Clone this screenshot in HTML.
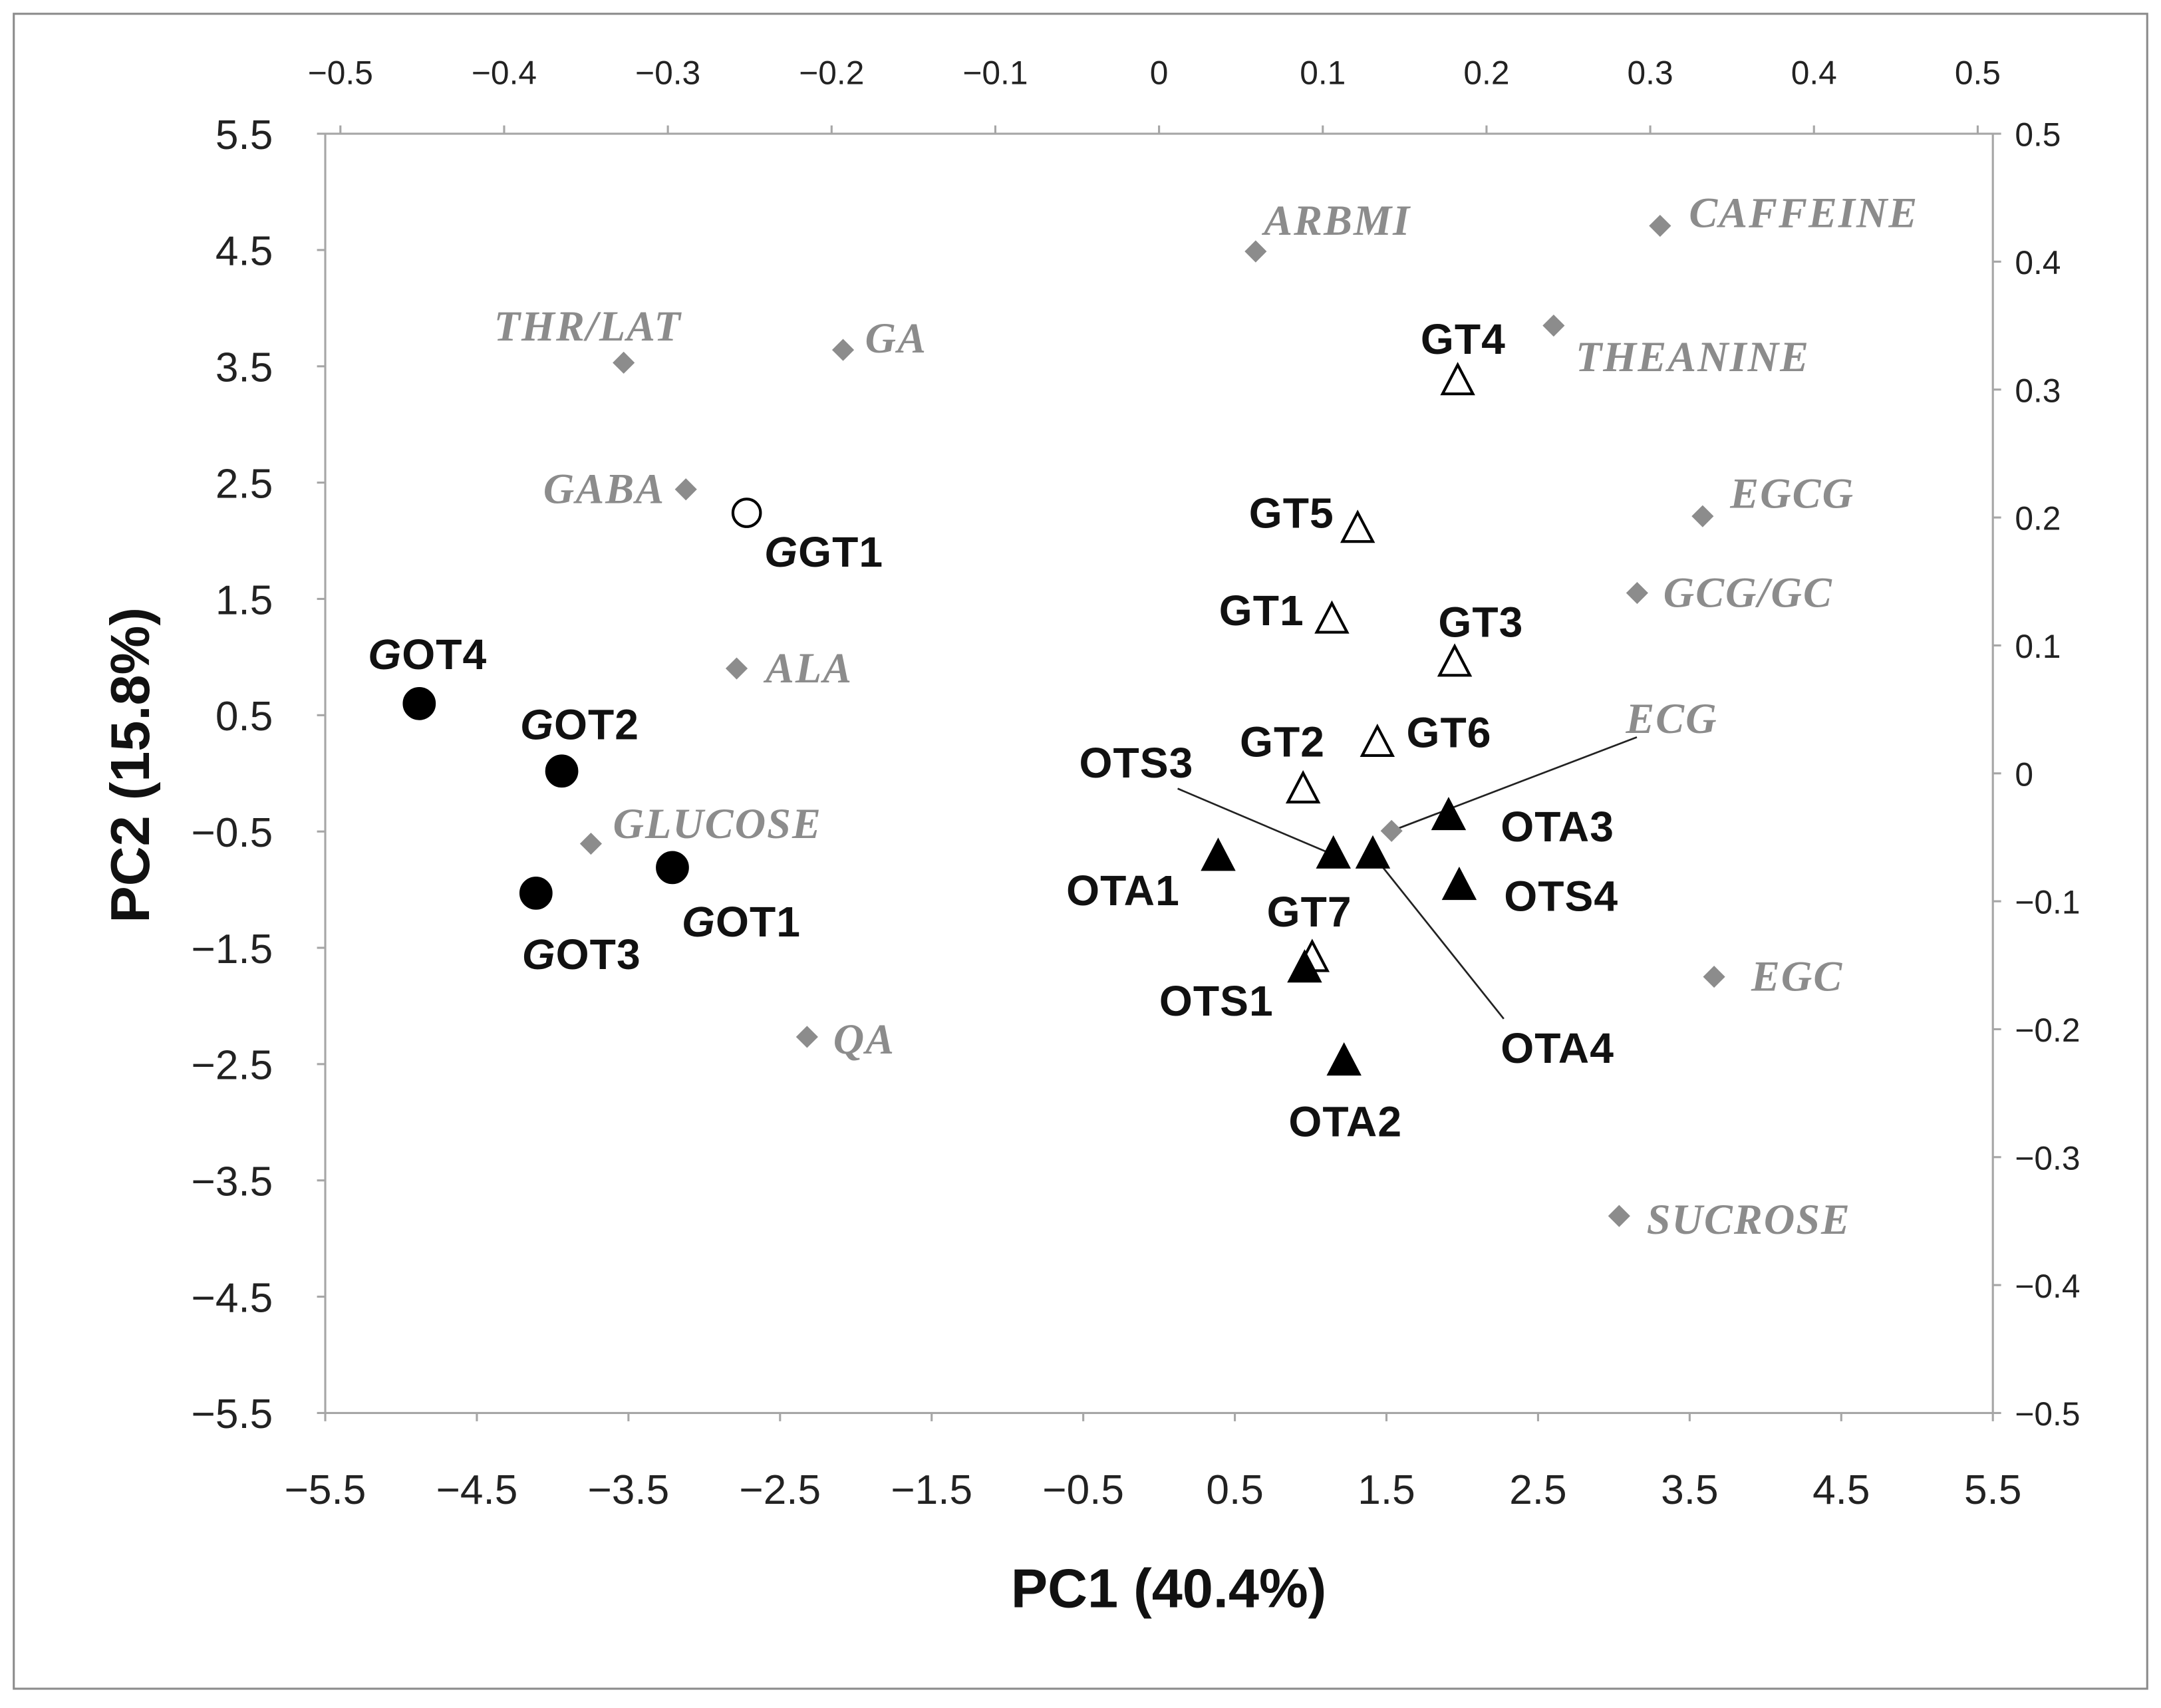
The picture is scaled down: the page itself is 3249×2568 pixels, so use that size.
<!DOCTYPE html>
<html><head><meta charset="utf-8"><style>
html,body{margin:0;padding:0;background:#fff}
svg{display:block}
</style></head><body>
<svg id="chart" width="3249" height="2568" viewBox="0 0 1568 1239" preserveAspectRatio="none" xmlns="http://www.w3.org/2000/svg">
<rect x="10" y="10" width="1548" height="1215" fill="#fff" stroke="#8c8c8c" stroke-width="1.5"/>
<g id="g"></g>
</svg>
<script>
// Primary axis ticks
const xTicks = [-5.5,-4.5,-3.5,-2.5,-1.5,-0.5,0.5,1.5,2.5,3.5,4.5,5.5];
const yTicks = [5.5,4.5,3.5,2.5,1.5,0.5,-0.5,-1.5,-2.5,-3.5,-4.5,-5.5];
const xTickLabels = ["\u22125.5","\u22124.5","\u22123.5","\u22122.5","\u22121.5","\u22120.5","0.5","1.5","2.5","3.5","4.5","5.5"];
const yTickLabels = ["5.5","4.5","3.5","2.5","1.5","0.5","\u22120.5","\u22121.5","\u22122.5","\u22123.5","\u22124.5","\u22125.5"];
// Secondary axis ticks
const topTicks = [-0.5,-0.4,-0.3,-0.2,-0.1,0,0.1,0.2,0.3,0.4,0.5];
const topTickLabels = ["\u22120.5","\u22120.4","\u22120.3","\u22120.2","\u22120.1","0","0.1","0.2","0.3","0.4","0.5"];
const rightTicks = [0.5,0.4,0.3,0.2,0.1,0,-0.1,-0.2,-0.3,-0.4,-0.5];
const rightTickLabels = ["0.5","0.4","0.3","0.2","0.1","0","\u22120.1","\u22120.2","\u22120.3","\u22120.4","\u22120.5"];
// Scores
const sampleNames = ["GOT4","GOT2","GOT3","GOT1","GGT1","GT4","GT5","GT1","GT3","GT6","GT2","GT7","OTA1","OTS3","OTA4","OTA3","OTS4","OTS1","OTA2"];
const sampleX = [-4.88,-3.94,-4.11,-3.21,-2.72,1.97,1.31,1.14,1.95,1.44,0.95,1.01,0.39,1.15,1.41,1.91,1.98,0.96,1.22];
const sampleY = [0.60,0.02,-1.03,-0.81,2.24,3.37,2.10,1.32,0.95,0.26,-0.14,-1.59,-0.72,-0.70,-0.70,-0.37,-0.97,-1.68,-2.48];
const sampleType = ["fc","fc","fc","fc","oc","ot","ot","ot","ot","ot","ot","ot","ft","ft","ft","ft","ft","ft","ft"];
// Loadings
const loadNames = ["ARBMI","CAFFEINE","THEANINE","THR/LAT","GA","GABA","EGCG","GCG/GC","ALA","ECG","GLUCOSE","EGC","QA","SUCROSE"];
const loadX = [0.059,0.306,0.241,-0.327,-0.193,-0.289,0.332,0.292,-0.258,0.142,-0.347,0.339,-0.215,0.281];
const loadY = [0.408,0.428,0.350,0.321,0.331,0.222,0.201,0.141,0.082,-0.045,-0.055,-0.159,-0.206,-0.346];

const L=236,R=1446,T=97,B=1025;
const sx=v=>L+(v+5.5)/11*(R-L);
const sy=v=>T+(5.5-v)/11*(B-T);
const lx=v=>841+v*1188;
const ly=v=>T+(0.5-v)*(B-T);

const NS="http://www.w3.org/2000/svg";
const g=document.getElementById('g');
function mk(tag,attrs,parent){const e=document.createElementNS(NS,tag);for(const k in attrs)e.setAttribute(k,attrs[k]);(parent||g).appendChild(e);return e;}

const AX="#a6a6a6";
const frame=mk('rect',{x:L,y:T,width:R-L,height:B-T,fill:'none',stroke:AX,'stroke-width':1.5});


const F='"Liberation Sans", Arial, sans-serif';

xTicks.forEach((v,i)=>{
 mk('line',{x1:sx(v),x2:sx(v),y1:B,y2:B+6,stroke:AX,'stroke-width':1.5});
 const t=mk('text',{x:sx(v),y:1091,'text-anchor':'middle','font-family':F,'font-size':30,fill:'#222'});
 t.textContent=xTickLabels[i];
 
 
});
yTicks.forEach((v,i)=>{
 mk('line',{x1:L-6,x2:L,y1:sy(v),y2:sy(v),stroke:AX,'stroke-width':1.5});
 const t=mk('text',{x:198,y:sy(v)+11,'text-anchor':'end','font-family':F,'font-size':30,fill:'#222'});
 t.textContent=yTickLabels[i];
 
 
});
topTicks.forEach((v,i)=>{
 mk('line',{x1:lx(v),x2:lx(v),y1:T-6,y2:T,stroke:AX,'stroke-width':1.5});
 const t=mk('text',{x:lx(v),y:61,'text-anchor':'middle','font-family':F,'font-size':24,fill:'#222'});
 t.textContent=topTickLabels[i];
 
 
});
rightTicks.forEach((v,i)=>{
 mk('line',{x1:R,x2:R+6,y1:ly(v),y2:ly(v),stroke:AX,'stroke-width':1.5});
 const t=mk('text',{x:1462,y:ly(v)+9,'text-anchor':'start','font-family':F,'font-size':24,fill:'#222'});
 t.textContent=rightTickLabels[i];
 
 
});
const xt=mk('text',{x:848,y:1166,'text-anchor':'middle','font-family':F,'font-size':40,'font-weight':'bold',fill:'#111'});
xt.textContent='PC1 (40.4%)';


const yt=mk('text',{x:0,y:0,'text-anchor':'middle','font-family':F,'font-size':40,'font-weight':'bold',fill:'#111',transform:'translate(108,555) rotate(-90)'});
yt.textContent='PC2 (15.8%)';



// loading label offsets [dx,dy,anchor]
const loadOff=[[6,-12,'start'],[21,1,'start'],[16,33,'start'],[-26,-16,'middle'],[16,2,'start'],[-15,10,'end'],[20,-6,'start'],[19,10,'start'],[21,10,'start'],[170,-71,'start'],[16,-4,'start'],[27,10,'start'],[19,12,'start'],[20,13,'start']];
const LG='#8c8c8c';
loadNames.forEach((n,i)=>{
 const x=lx(loadX[i]),y=ly(loadY[i]);
 const o=loadOff[i];
 if(n==='ECG'){const ln=mk('line',{x1:x,y1:y,x2:x+178,y2:y-68,stroke:'#222','stroke-width':1.3});
  
  }
 const d=mk('path',{d:`M${x} ${y-8}L${x+8} ${y}L${x} ${y+8}L${x-8} ${y}Z`,fill:LG});
 
 
 const t=mk('text',{x:x+o[0],y:y+o[1],'text-anchor':o[2],'font-family':'"Liberation Serif", serif','font-size':31,'font-style':'italic','font-weight':'bold',fill:LG,'letter-spacing':'1'});
 t.textContent=n;
 
 
});

// sample label offsets (center)
const sOff=[[6,-25],[13,-23],[33,55],[50,50],[56,39],[4,-20],[-48,-1],[-51,4],[19,-19],[52,3],[-15,-24],[-2,-23],[-69,35],[-143,-56],[134,151],[79,18],[74,18],[-64,34],[1,54]];
sampleNames.forEach((n,i)=>{
 const x=sx(sampleX[i]),y=sy(sampleY[i]);const ty=sampleType[i];
 let m;
 if(n==='OTS3'){const ln=mk('line',{x1:x-143+30,y1:y-48,x2:x,y2:y,stroke:'#222','stroke-width':1.3});}
 if(n==='OTA4'){const ln=mk('line',{x1:x,y1:y,x2:x+95,y2:y+119,stroke:'#222','stroke-width':1.3});}
 if(ty==='fc'||ty==='oc'){
  m=mk('circle',{cx:x,cy:y,r:ty==='fc'?11:10,fill:ty==='fc'?'#000':'#fff',stroke:'#000','stroke-width':2});
 } else {
  m=mk('path',{d:`M${x} ${y-12}L${x+11} ${y+9}L${x-11} ${y+9}Z`,fill:ty==='ft'?'#000':'#fff',stroke:'#000','stroke-width':2});
 }
 
 
 const t=mk('text',{x:x+sOff[i][0],y:y+sOff[i][1],'text-anchor':'middle','font-family':F,'font-size':31,'font-weight':'bold',fill:'#111','letter-spacing':'0.5'});
 if(n[0]==='G'&&(n[1]==='O'||n[1]==='G')){
  const a=document.createElementNS(NS,'tspan');a.setAttribute('font-style','italic');a.textContent='G';t.appendChild(a);
  t.appendChild(document.createTextNode(n.slice(1)));
 } else t.textContent=n;
 
 
});
</script>
</body></html>
